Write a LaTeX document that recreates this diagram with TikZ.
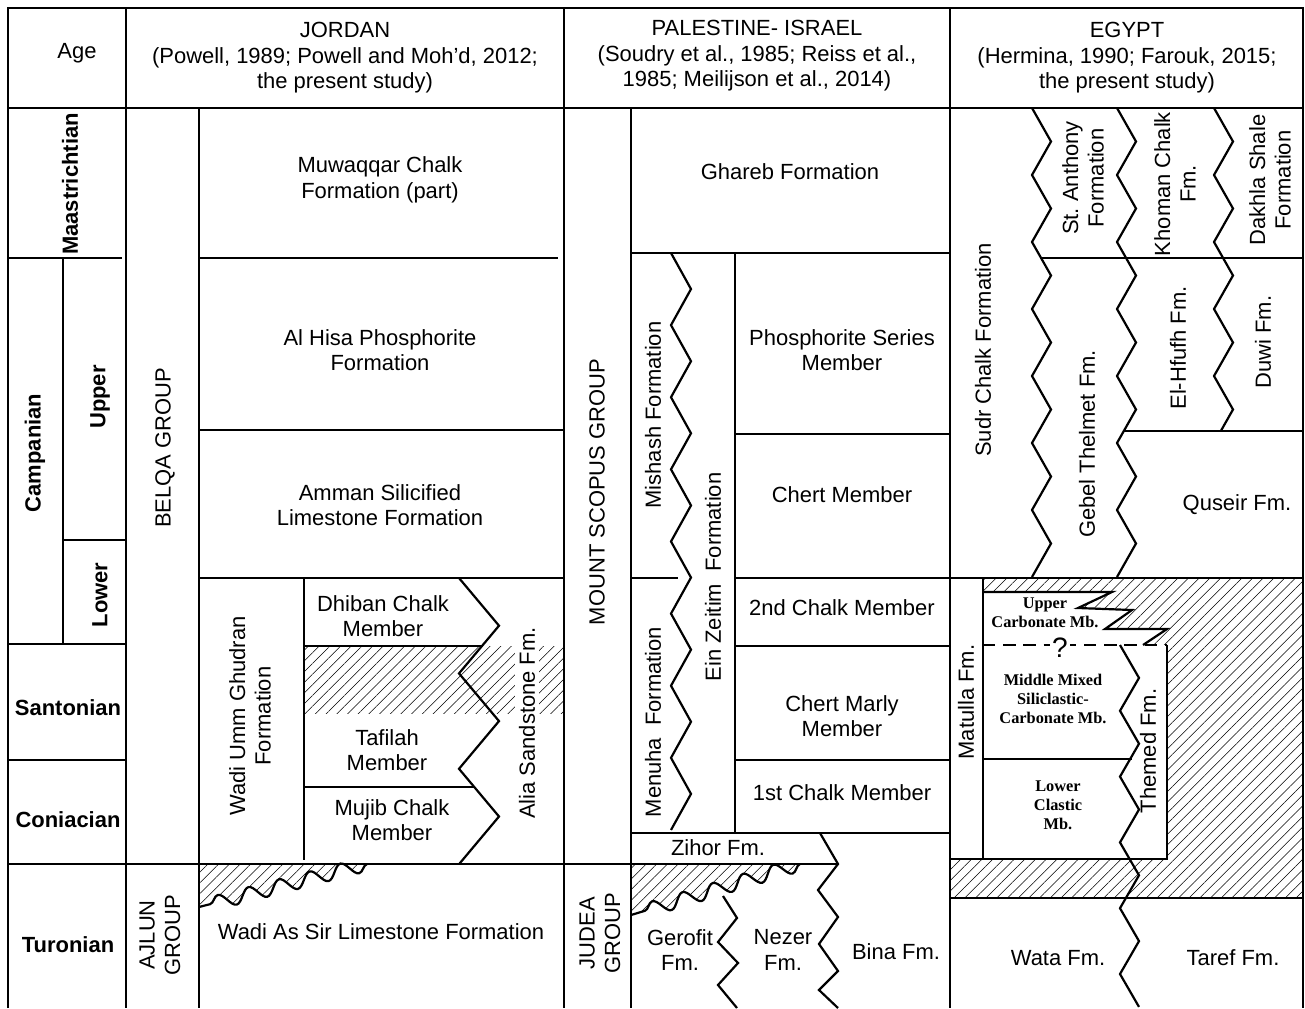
\documentclass[tikz,border=0pt]{standalone}
\usepackage{fontspec}
\setmainfont{Liberation Sans}
\newfontfamily\mbfont{Liberation Serif}
\usetikzlibrary{patterns.meta}
\usetikzlibrary{decorations.pathmorphing}

\begin{document}
\begin{tikzpicture}[x=0.02cm,y=-0.02cm,
		rule/.style={line width=1.5pt},
		zig/.style={line width=1.25pt,line join=miter},
		lbl/.style={font=\fontsize{12.5}{14.5}\selectfont,align=center,inner sep=0pt},
		vlbl/.style={lbl,rotate=90},
		agelbl/.style={lbl,font=\fontsize{12.5}{14.5}\selectfont\bfseries},
		mblbl/.style={lbl,font=\mbfont\fontsize{9.3}{10.8}\selectfont\bfseries},
		hatch/.style={pattern={Lines[angle=45,distance=4.3pt,line width=0.3pt]}},
		wavy/.style={decoration={snake,amplitude=4pt,segment length=18pt}}]
	
	\useasboundingbox (0,0) rectangle (1305,1008);
	
	% A zigzag contact macro: left x, right x, top y, half period, number of halves
	\newcommand{\zigzag}[5]{%
		\draw[zig] (#1,#3) \foreach \k in {1,...,#5}{ -- ({isodd(\k)*(#2-#1)+#1},{#3+\k*#4}) };
	}
	
	% Hatched gaps (first, so the lines go on top)
	\fill[hatch] (304,646) rectangle (563,713);
	\fill[hatch] (983,578) rectangle (1303,898);
	\fill[hatch] (950,859) rectangle (983,898);
	\fill[white] (983,592) -- (1112,592) -- (1078,608) -- (1132,610) -- (1105,629)
		-- (1167,629) -- (1143,645) -- (983,645) -- cycle;
	\fill[white] (983,645) rectangle (1167,859);
	\fill[hatch,wavy] (367,864) decorate{-- (199,907)} -- (199,864) -- cycle;
	\fill[hatch,wavy] (800,864) decorate{-- (631,915)} -- (631,864) -- cycle;
	
	% Frame and main columns
	\draw[rule] (8,1008) -- (8,8) -- (1303,8) -- (1303,1008);
	\draw[rule] (8,108) -- (1303,108);
	\draw[rule] (126,8) -- (126,1008);
	\draw[rule] (564,8) -- (564,1008);
	\draw[rule] (950,8) -- (950,1008);
	\draw[rule] (199,108) -- (199,1008);
	\draw[rule] (631,108) -- (631,1008);
	
	% Age column
	\draw[rule] (8,258) -- (122,258);
	\draw[rule] (63,258) -- (63,644);
	\draw[rule] (63,540) -- (126,540);
	\draw[rule] (8,644) -- (126,644);
	\draw[rule] (8,760) -- (126,760);
	\draw[rule] (8,864) -- (838,864);
	
	% Jordan
	\draw[rule] (199,258) -- (558,258);
	\draw[rule] (199,430) -- (564,430);
	\draw[rule] (199,578) -- (564,578);
	\draw[rule] (304,578) -- (304,860);
	\draw[rule] (304,646) -- (482,646);
	\draw[rule] (304,787) -- (474,787);
	\zigzag{459}{499}{578}{47.7}{6}
	\draw[zig,wavy] (367,864) decorate{-- (199,907)};
	
	% Palestine - Israel
	\draw[rule] (631,253) -- (950,253);
	\draw[rule] (735,253) -- (735,833);
	\draw[rule] (735,434) -- (950,434);
	\draw[rule] (631,578) -- (678,578);
	\draw[rule] (735,578) -- (950,578);
	\draw[rule] (735,646) -- (950,646);
	\draw[rule] (735,760) -- (950,760);
	\draw[rule] (631,833) -- (950,833);
	\zigzag{671}{691}{253}{36.06}{16}
	\draw[zig] (820,833) -- (838,864) -- (818,890) -- (838,917) -- (819,944)
		-- (838,971) -- (819,990) -- (838,1008);
	\draw[zig] (723,896) -- (737,918) -- (718,942) -- (738,963) -- (718,985) -- (737,1008);
	\draw[zig,wavy] (800,864) decorate{-- (631,915)};
	
	% Egypt
	\draw[rule] (1041,258) -- (1303,258);
	\draw[rule] (1124,431) -- (1303,431);
	\draw[rule] (950,578) -- (1303,578);
	\draw[rule] (983,578) -- (983,859);
	\draw[rule] (950,859) -- (1167,859) -- (1167,645);
	\draw[rule] (950,898) -- (1303,898);
	\draw[rule] (983,759) -- (1132,759);
	\draw[zig] (983,592) -- (1112,592) -- (1078,608) -- (1132,610) -- (1105,629)
		-- (1167,629) -- (1143,645);
	\draw[zig,dash pattern=on 7pt off 4.5pt] (983,645) -- (1167,645);
	\zigzag{1032}{1051}{108}{33.5}{14}
	\zigzag{1117}{1136}{108}{33.5}{14}
	\begin{scope}
		\clip (1200,100) rectangle (1250,431);
		\zigzag{1214}{1233}{108}{33.5}{10}
	\end{scope}
	\zigzag{1120}{1139}{645}{32.9}{11}
	
	% Headings
	\node[lbl] (hdage) at (77,53) {Age};
	\node[lbl] (hdjor) at (345,58) {JORDAN\\(Powell, 1989; Powell and Moh’d, 2012;\\the present study)};
	\node[lbl] (hdpal) at (757,56) {PALESTINE- ISRAEL\\(Soudry et al., 1985; Reiss et al.,\\1985; Meilijson et al., 2014)};
	\node[lbl] (hdegy) at (1127,58) {EGYPT\\(Hermina, 1990; Farouk, 2015;\\the present study)};
	
	% Ages
	\node[agelbl,rotate=90] (maas) at (70,184) {Maastrichtian};
	\node[agelbl,rotate=90] (camp) at (35,453) {Campanian};
	\node[agelbl,rotate=90] (campup) at (100,397) {Upper};
	\node[agelbl,rotate=90] (camplo) at (100,595) {Lower};
	\node[agelbl] (sant) at (68,708) {Santonian};
	\node[agelbl] (coni) at (68,820) {Coniacian};
	\node[agelbl] (turo) at (68,945) {Turonian};
	
	% Jordan units
	\node[vlbl] (belqa) at (165,448) {BELQA GROUP};
	\node[vlbl] (ajlun) at (160,935) {AJLUN\\GROUP};
	\node[lbl] (muwaqqar) at (380,180) {Muwaqqar Chalk\\Formation (part)};
	\node[lbl] (alhisa) at (380,350) {Al Hisa Phosphorite\\Formation};
	\node[lbl] (amman) at (380,505) {Amman Silicified\\Limestone Formation};
	\node[vlbl] (ghudran) at (250,716) {Wadi Umm Ghudran\\Formation};
	\node[lbl] (dhiban) at (383,616) {Dhiban Chalk\\Member};
	\node[lbl] (tafilah) at (387,750) {Tafilah\\Member};
	\node[lbl] (mujib) at (392,820) {Mujib Chalk\\Member};
	\node[vlbl,fill=white,inner sep=2pt] (alia) at (527,723) {Alia Sandstone Fm.};
	\node[lbl] (wadisir) at (381,932) {Wadi As Sir Limestone Formation};
	
	% Palestine - Israel units
	\node[vlbl] (scopus) at (597,492) {MOUNT SCOPUS GROUP};
	\node[vlbl] (judea) at (600,933) {JUDEA\\GROUP};
	\node[lbl] (ghareb) at (790,172) {Ghareb Formation};
	\node[vlbl] (mishash) at (653,415) {Mishash Formation};
	\node[vlbl] (menuha) at (653,722) {Menuha\ \ Formation};
	\node[vlbl] (zeitim) at (713,577) {Ein Zeitim\ \ Formation};
	\node[lbl] (phos) at (842,350) {Phosphorite Series\\Member};
	\node[lbl] (chert) at (842,495) {Chert Member};
	\node[lbl] (chalktwo) at (842,608) {2nd Chalk Member};
	\node[lbl] (chertmarly) at (842,716) {Chert Marly\\Member};
	\node[lbl] (chalkone) at (842,793) {1st Chalk Member};
	\node[lbl] (zihor) at (718,848) {Zihor Fm.};
	\node[lbl] (gerofit) at (680,950) {Gerofit\\Fm.};
	\node[lbl] (nezer) at (783,950) {Nezer\\Fm.};
	\node[lbl] (bina) at (896,952) {Bina Fm.};
	
	% Egypt units
	\node[vlbl] (sudr) at (983,350) {Sudr Chalk Formation};
	\node[vlbl] (anthony) at (1083,178) {St.\ Anthony\\Formation};
	\node[vlbl] (khoman) at (1175,184) {Khoman Chalk\\Fm.};
	\node[vlbl] (dakhla) at (1270,180) {Dakhla Shale\\Formation};
	\node[vlbl] (thelmet) at (1087,444) {Gebel Thelmet Fm.};
	\node[vlbl] (hfufh) at (1178,348) {El-Hfufh Fm.};
	\node[vlbl] (duwi) at (1263,342) {Duwi Fm.};
	\node[lbl] (quseir) at (1237,505) {Quseir Fm.};
	\node[vlbl] (matulla) at (966,702) {Matulla Fm.};
	\node[mblbl] (uppercarb) at (1045,613) {Upper\\Carbonate Mb.};
	\node[lbl,fill=white,inner sep=1pt,font=\fontsize{16}{18}\selectfont] (query) at (1060,648) {?};
	\node[mblbl] (middlemix) at (1053,699) {Middle Mixed\\Siliclastic-\\Carbonate Mb.};
	\node[mblbl] (lowerclas) at (1058,805) {Lower\\Clastic\\Mb.};
	\node[vlbl] (themed) at (1148,751) {Themed Fm.};
	\node[lbl] (wata) at (1058,958) {Wata Fm.};
	\node[lbl] (taref) at (1233,958) {Taref Fm.};
\end{tikzpicture}
\end{document}
